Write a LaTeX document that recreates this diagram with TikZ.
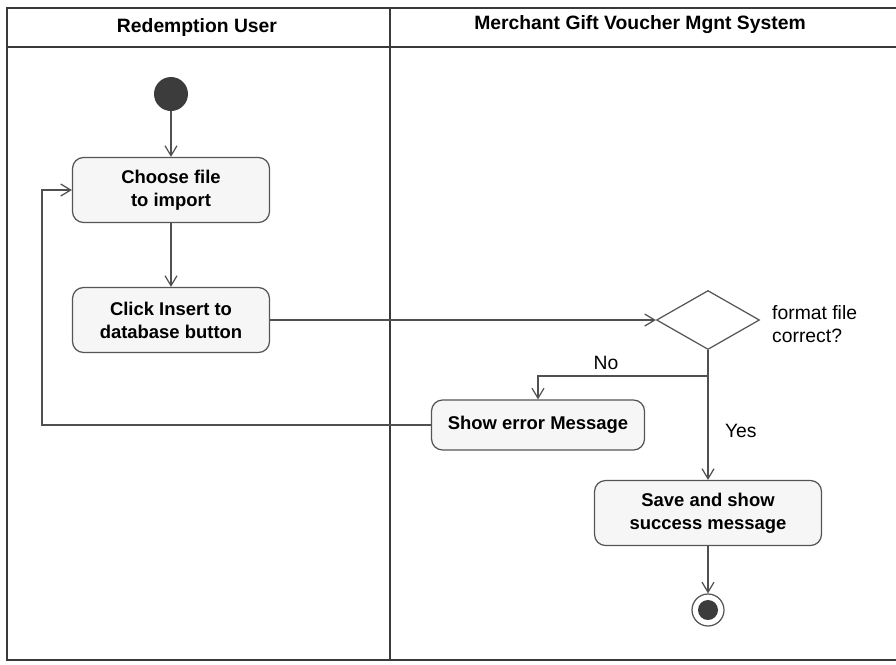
\documentclass[tikz,border=0pt]{standalone}
\usepackage{fontspec}
\setmainfont{Liberation Sans}
\usetikzlibrary{shapes.geometric,arrows.meta}
\definecolor{lanegray}{HTML}{3A3A3A}
\definecolor{linegray}{HTML}{505050}
\definecolor{boxgray}{HTML}{555555}
\definecolor{boxfill}{HTML}{F6F6F6}
\definecolor{dotgray}{HTML}{3C3C3C}
\tikzset{
  lane/.style={draw=lanegray, line width=1.3pt},
  header/.style={font=\bfseries\fontsize{11}{13}\selectfont},
  action/.style={draw=boxgray, fill=boxfill, rounded corners=0.22cm, align=center,
    line width=0.7pt, font=\bfseries\fontsize{10.5}{13}\selectfont},
  decision/.style={diamond, draw=boxgray, fill=white, line width=0.7pt,
    minimum width=2.06cm, minimum height=1.18cm, inner sep=0pt},
  initial/.style={circle, fill=dotgray, minimum size=0.68cm, inner sep=0pt},
  final/.style={circle, draw=boxgray, fill=white, line width=0.7pt, minimum size=0.64cm, inner sep=0pt,
    path picture={\fill[dotgray] (path picture bounding box.center) circle (0.2cm);}},
  flow/.style={draw=linegray, line width=0.7pt, -{Straight Barb[length=2mm,width=2.4mm]}},
  note/.style={font=\fontsize{11}{13}\selectfont, align=left}
}
\begin{document}
\begin{tikzpicture}[x=0.02cm,y=-0.02cm]
\useasboundingbox (0,0) rectangle (896,664);
\draw[lane] (896,8) -- (7,8) -- (7,660) -- (896,660);
\draw[lane] (7,47) -- (896,47);
\draw[lane] (390,8) -- (390,660);
\node[header] (userlane) at (197,27) {Redemption User};
\node[header] (systemlane) at (640,25) {Merchant Gift Voucher Mgnt System};
\node[initial] (start) at (171,94) {};
\node[action, minimum width=3.94cm, minimum height=1.3cm] (choose) at (171,190) {Choose file\\to import};
\node[action, minimum width=3.94cm, minimum height=1.3cm] (click) at (171,320) {Click Insert to\\database button};
\node[decision] (check) at (708,320) {};
\node[note, anchor=west] (checklbl) at (766,324) {format file\\correct?};
\node[action, minimum width=4.26cm, minimum height=1cm] (error) at (538,425) {Show error Message};
\node[action, minimum width=4.54cm, minimum height=1.3cm] (save) at (708,513) {Save and show\\success message};
\node[final] (finish) at (708,610) {};
\coordinate (split) at (708,376);
\coordinate (back) at (42,425);
\draw[flow] (start) -- (choose);
\draw[flow] (choose) -- (click);
\draw[flow] (click) -- (check);
\draw[flow] (check.south) -- (split) -| node[pos=0.3, above, note] {No} (error.north);
\draw[flow] (check.south) -- node[pos=0.62, right=6pt, note] {Yes} (save.north);
\draw[flow] (error.west) -- (back) |- (choose.west);
\draw[flow] (save) -- (finish);
\end{tikzpicture}
\end{document}
